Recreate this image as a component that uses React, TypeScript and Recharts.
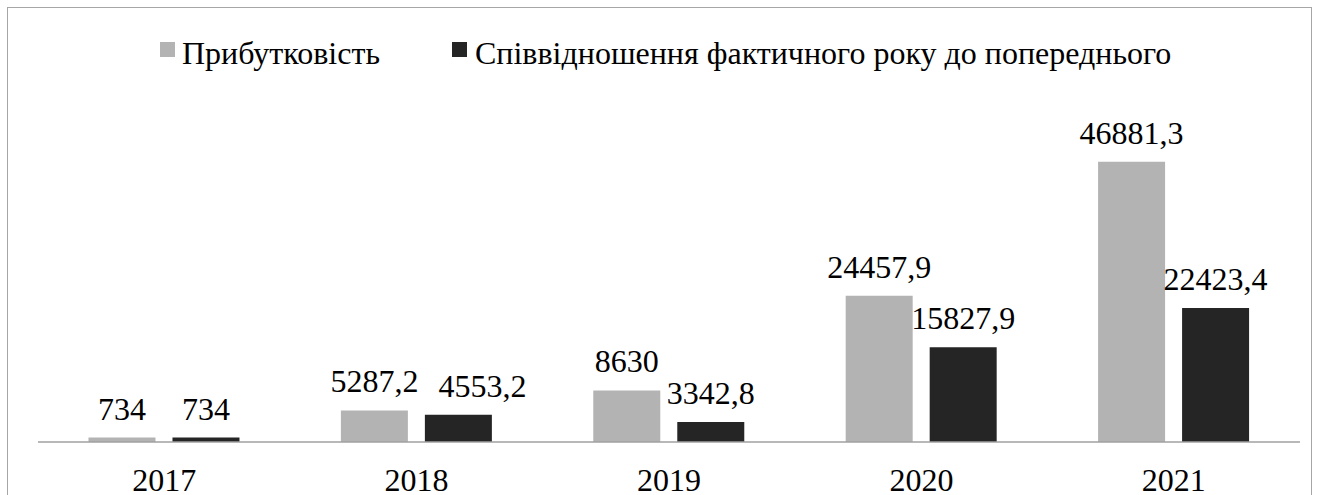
import React from 'react';
import { BarChart, Bar, XAxis, YAxis, Legend, LabelList } from 'recharts';

const categories = ['2017', '2018', '2019', '2020', '2021'];
const profitability = [734, 5287.2, 8630, 24457.9, 46881.3];
const ratio = [734, 4553.2, 3342.8, 15827.9, 22423.4];
const seriesNames = ['Прибутковість', 'Співвідношення фактичного року до попереднього'];

const data = categories.map((c, i) => ({ year: c, a: profitability[i], b: ratio[i] }));

const FONT = 'Liberation Serif';
const FS = 32;
const LIGHT = '#b3b3b3';
const DARK = '#252525';
const LABEL_OFFSET = 18;
const BAR_GAP = 17;

const fmt = (v: any) => String(v).replace('.', ',');
// approximate width of a numeric label in a Times-like font
const textW = (s: string) => s.split('').reduce((w, ch) => w + (ch === ',' ? 0.25 : 0.5) * FS, 0);

// Label of the second series; nudged right when it would collide with the first series' label
const RatioLabel = (props: any) => {
  const vb = props.viewBox && props.viewBox.width !== undefined ? props.viewBox : props;
  const x = Number(vb.x), y = Number(vb.y), width = Number(vb.width), height = Number(vb.height);
  const idx = props.index !== undefined ? props.index : ratio.indexOf(Number(props.value));
  const v = ratio[idx];
  const cx = x + width / 2;
  const baseline = y - LABEL_OFFSET;
  const base = y + height;
  const pxPer = v ? height / v : 0;
  const aTop = base - profitability[idx] * pxPer;
  const aBaseline = aTop - LABEL_OFFSET;
  const aCx = cx - width - BAR_GAP;
  const aRight = aCx + textW(fmt(profitability[idx])) / 2;
  const bLeft = cx - textW(fmt(v)) / 2;
  let shift = 0;
  if (Math.abs(aBaseline - baseline) < FS * 0.75 && bLeft < aRight + 20) {
    shift = aRight + 20 - bLeft;
  }
  return (
    <text x={cx + shift} y={baseline} textAnchor="middle" fontFamily={FONT} fontSize={FS} fill="#000">
      {fmt(v)}
    </text>
  );
};

const LegendContent = () => (
  <svg width={1303} height={70} style={{ display: 'block' }}>
    <rect x={152} y={34} width={15} height={15} fill={LIGHT} />
    <text x={174} y={55.5} fontFamily={FONT} fontSize={FS} fill="#000">{seriesNames[0]}</text>
    <rect x={444} y={34} width={15} height={15} fill={DARK} />
    <text x={467} y={55.5} fontFamily={FONT} fontSize={FS} fill="#000">{seriesNames[1]}</text>
  </svg>
);

export default function App() {
  return (
    <div
      style={{
        position: 'fixed',
        left: 7,
        top: 7,
        width: 1305,
        height: 495,
        border: '1px solid #a6a6a6',
        boxSizing: 'border-box',
        background: '#fff',
        fontFamily: FONT,
      }}
    >
      <BarChart
        width={1303}
        height={493}
        data={data}
        margin={{ top: 65, right: 11, bottom: 0, left: 30 }}
        barCategoryGap="20%"
        barGap={BAR_GAP}
      >
        <Legend
          verticalAlign="top"
          wrapperStyle={{ top: 0, left: 0 }}
          content={() => <LegendContent />}
        />
        <XAxis
          dataKey="year"
          height={59}
          axisLine={{ stroke: '#a0a0a0', strokeWidth: 1.5 }}
          tickLine={false}
          tickSize={0}
          tickMargin={26}
          tick={{ fontFamily: FONT, fontSize: FS, fill: '#000' }}
          interval={0}
        />
        <YAxis hide domain={[0, 50000]} />
        <Bar dataKey="a" fill={LIGHT} isAnimationActive={false}>
          <LabelList dataKey="a" position="top" offset={LABEL_OFFSET} formatter={fmt}
            fontFamily={FONT} fontSize={FS} fill="#000" />
        </Bar>
        <Bar dataKey="b" fill={DARK} isAnimationActive={false}>
          <LabelList dataKey="b" content={RatioLabel} />
        </Bar>
      </BarChart>
    </div>
  );
}
